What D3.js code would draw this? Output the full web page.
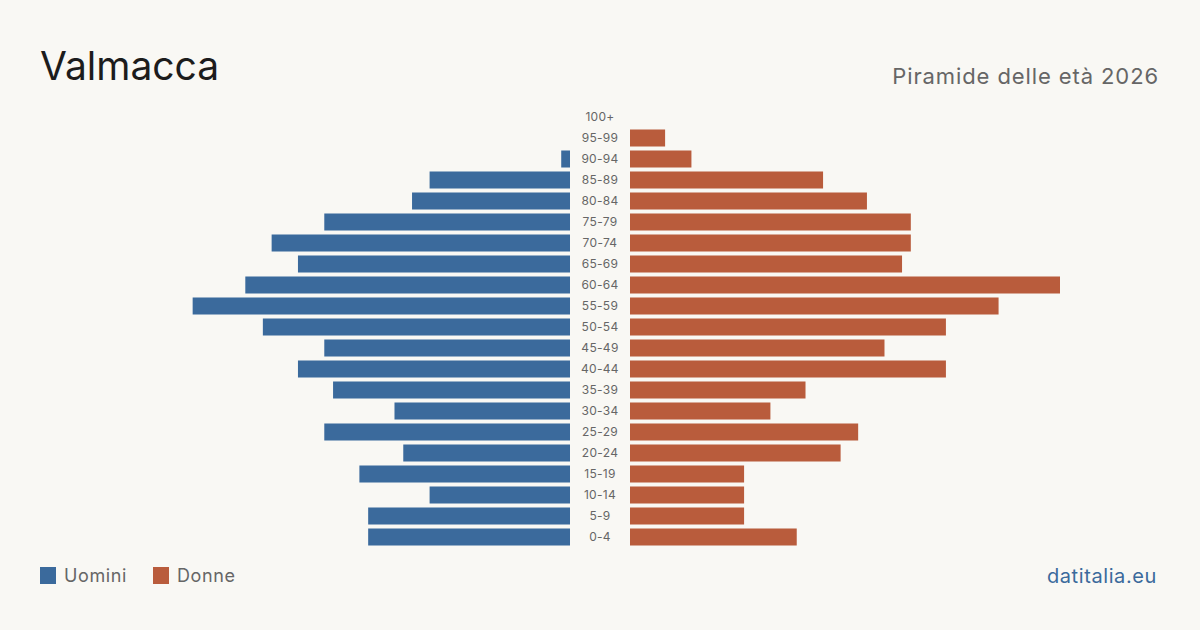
<!DOCTYPE html>
<html>
<head>
<meta charset="utf-8">
<script src="https://cdn.jsdelivr.net/npm/d3@7"></script>
<style>
  body { margin: 0; background: #f9f8f4; }
  svg { display: block; }
</style>
</head>
<body>
<div id="chart"></div>
<script>
// fasce di età, dall'alto verso il basso
var ageGroups = ["100+", "95-99", "90-94", "85-89", "80-84", "75-79", "70-74", "65-69", "60-64", "55-59",
    "50-54", "45-49", "40-44", "35-39", "30-34", "25-29", "20-24", "15-19", "10-14", "5-9", "0-4"];
var uomini = [0, 0, 1, 16, 18, 28, 34, 31, 37, 43, 35, 28, 31, 27, 20, 28, 19, 24, 16, 23, 23];
var donne = [0, 4, 7, 22, 27, 32, 32, 31, 49, 42, 36, 29, 36, 20, 16, 26, 24, 13, 13, 13, 19];

var width = 1200, height = 630;
var colUomini = "#3b6a9c", colDonne = "#b95c3c";
var font = "Inter, 'Noto Sans', sans-serif";

var svg = d3.select("#chart").append("svg")
    .attr("width", width)
    .attr("height", height)
    .style("background", "#f9f8f4");

var maxVal = d3.max(uomini.concat(donne));

var y = d3.scaleBand()
    .domain(ageGroups)
    .range([106.5, 547.5])
    .paddingInner(0.19)
    .paddingOuter(0.095);

var xRight = d3.scaleLinear().domain([0, maxVal]).range([630, 1060]);
var xLeft = d3.scaleLinear().domain([0, maxVal]).range([570, 140]);

// barre uomini
svg.append("g").selectAll("rect")
    .data(uomini)
    .enter().append("rect")
    .attr("x", function (d) { return xLeft(d); })
    .attr("y", function (d, i) { return y(ageGroups[i]); })
    .attr("width", function (d) { return xLeft(0) - xLeft(d); })
    .attr("height", y.bandwidth())
    .attr("fill", colUomini);

// barre donne
svg.append("g").selectAll("rect")
    .data(donne)
    .enter().append("rect")
    .attr("x", xRight(0))
    .attr("y", function (d, i) { return y(ageGroups[i]); })
    .attr("width", function (d) { return xRight(d) - xRight(0); })
    .attr("height", y.bandwidth())
    .attr("fill", colDonne);

// etichette età
svg.append("g").selectAll("text")
    .data(ageGroups)
    .enter().append("text")
    .attr("x", 600)
    .attr("y", function (d) { return y(d) + y.bandwidth() / 2; })
    .attr("dy", "0.35em")
    .attr("text-anchor", "middle")
    .attr("font-family", font)
    .attr("font-size", 12)
    .attr("letter-spacing", 0.3)
    .attr("fill", "#666")
    .text(function (d) { return d; });

// titolo
svg.append("text")
    .attr("x", 40)
    .attr("y", 80)
    .attr("font-family", font)
    .attr("font-size", 39)
    .attr("fill", "#1c1c1c")
    .text("Valmacca");

svg.append("text")
    .attr("x", 1159)
    .attr("y", 84)
    .attr("text-anchor", "end")
    .attr("font-family", font)
    .attr("font-size", 22)
    .attr("letter-spacing", 0.9)
    .attr("fill", "#666")
    .text("Piramide delle età 2026");

// legenda
var legend = [{ name: "Uomini", color: colUomini, x: 40 }, { name: "Donne", color: colDonne, x: 153 }];
var lg = svg.append("g").selectAll("g")
    .data(legend)
    .enter().append("g")
    .attr("transform", function (d) { return "translate(" + d.x + ",567)"; });
lg.append("rect")
    .attr("width", 16)
    .attr("height", 17)
    .attr("fill", function (d) { return d.color; });
lg.append("text")
    .attr("x", 24)
    .attr("y", 15)
    .attr("font-family", font)
    .attr("font-size", 18)
    .attr("letter-spacing", 0.6)
    .attr("fill", "#666")
    .text(function (d) { return d.name; });

svg.append("text")
    .attr("x", 1157)
    .attr("y", 583)
    .attr("text-anchor", "end")
    .attr("font-family", font)
    .attr("font-size", 20)
    .attr("letter-spacing", 0.6)
    .attr("fill", "#3b6a9c")
    .text("datitalia.eu");
</script>
</body>
</html>
